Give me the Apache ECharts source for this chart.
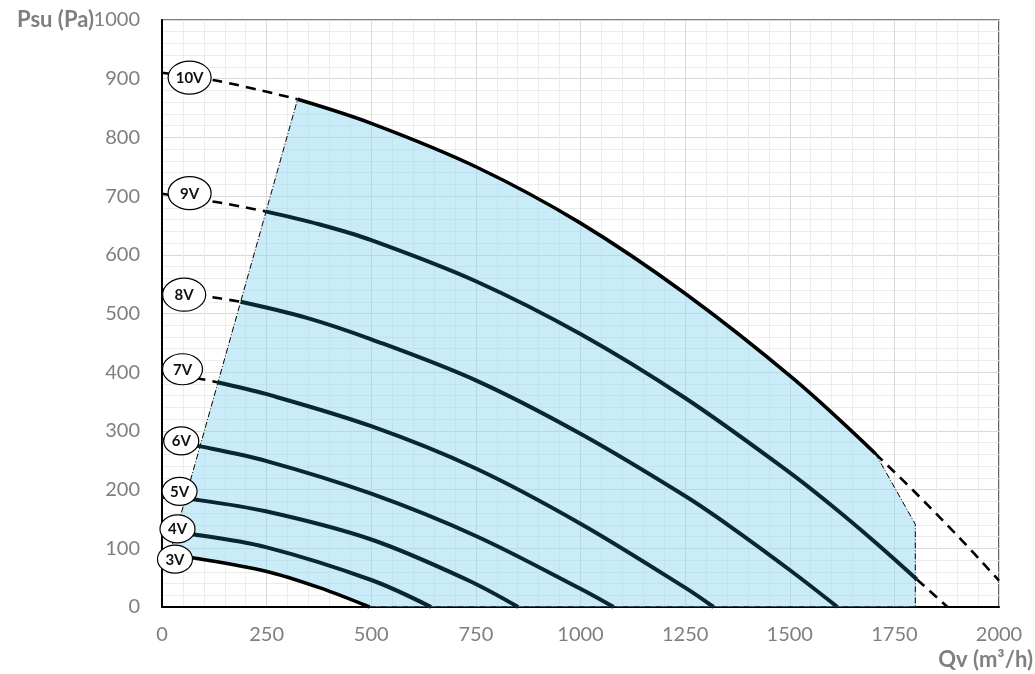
<!DOCTYPE html>
<html>
<head>
<meta charset="utf-8">
<script src="https://cdn.jsdelivr.net/npm/echarts@6/dist/echarts.min.js"></script>
<style>
html,body{margin:0;padding:0;background:#fff;}
#chart{width:1035px;height:674px;}
</style>
</head>
<body>
<div id="chart"></div>
<script>
// ---- Data (Qv in m3/h, Psu in Pa) ----
const voltages = ['10V', '9V', '8V', '7V', '6V', '5V', '4V', '3V'];

const curve10V = [[0,910],[135,896],[324,865],[500,824],[750,750],[1000,654],[1250,534],[1510,388],[1705,261],[1800,195],[1900,122],[2000,45]];
const curve9V  = [[0,704],[137,689],[247,674],[375,652],[500,625],[750,555],[1000,465],[1250,356],[1500,229],[1600,173],[1700,113],[1804,47],[1877,0]];
const curve8V  = [[0,541],[137,526],[188,520],[344,493],[500,456],[750,386],[1000,295],[1250,189],[1358,137],[1500,63],[1614,0]];
const curve7V  = [[0,400],[89,389],[132,383],[248,363],[500,308],[750,236],[1000,142],[1250,33],[1318,0]];
const curve6V  = [[0,285],[89,274],[248,249],[500,193],[750,121],[1000,31],[1079,0]];
const curve5V  = [[0,188],[69,184],[248,163],[500,115],[730,46],[851,0]];
const curve4V  = [[0,128],[73,124],[248,102],[500,46],[643,0]];
const curve3V  = [[0,91],[73,84],[248,61],[376,33],[496,0]];

// Q range over which each curve is drawn solid (dashed outside it)
const solidFrom = [324, 247, 188, 132, 0, 0, 0, 0];
const solidTo   = [1705, 1804, 9999, 9999, 9999, 9999, 9999, 9999];

// Operating envelope boundary (dash-dot lines)
const envelopeLeft   = [[18,89],[324,865]];
const envelopeRight  = [[1705,261],[1800,141],[1800,0]];
const envelopeBottom = [[496,0],[1800,0]];

// Voltage tag anchors (data coordinates)
const tagAnchors = [[66,902],[66,705],[53,532],[49,405],[46,283],[42,197],[37,133],[31,81.5]];

// Axis ticks
const xTicks = [0, 250, 500, 750, 1000, 1250, 1500, 1750, 2000];
const yTicks = [0, 100, 200, 300, 400, 500, 600, 700, 800, 900, 1000];

// ---- Build chart ----
const curves = [curve10V, curve9V, curve8V, curve7V, curve6V, curve5V, curve4V, curve3V];
const FONT = 'Lato, "Open Sans", sans-serif';
const SMOOTH = 0.34;
const series = [];

// shaded envelope polygon: left edge, 10V top, right edge, bottom, 3V reversed
const topEdge = curve10V.filter(p => p[0] >= envelopeLeft[1][0] && p[0] <= envelopeRight[0][0]);
const bottomCurve = curve3V.filter(p => p[0] > envelopeLeft[0][0]).slice().reverse();
const polygonPts = [envelopeLeft[0]].concat(topEdge, envelopeRight.slice(1), [envelopeBottom[0]], bottomCurve.slice(1));

series.push({
  type: 'custom', coordinateSystem: 'cartesian2d', silent: true, z: 1, clip: true,
  data: [[0, 0]],
  renderItem: function (params, api) {
    return {
      type: 'polygon',
      shape: { points: polygonPts.map(p => api.coord(p)) },
      style: { fill: 'rgba(150,218,244,0.5)' }
    };
  }
});

// envelope dash-dot lines
[envelopeLeft, envelopeRight, envelopeBottom].forEach(seg => {
  series.push({
    type: 'line', data: seg, symbol: 'none', silent: true, z: 2,
    lineStyle: { color: '#000', width: 1, type: [6, 2, 1, 2] }
  });
});

// curves: dashed heads/tails, solid core
curves.forEach((pts, i) => {
  const s0 = solidFrom[i], s1 = solidTo[i];
  const head = pts.filter(p => p[0] <= s0);
  const core = pts.filter(p => p[0] >= s0 && p[0] <= s1);
  const tail = pts.filter(p => p[0] >= s1);
  const edge = (i === 0 || i === curves.length - 1);
  const col = edge ? '#000000' : '#0a2630';
  if (head.length > 1) series.push({
    type: 'line', data: head, symbol: 'none', smooth: SMOOTH, silent: true, z: 3,
    lineStyle: { color: '#000', width: 2.6, type: [10, 7] }
  });
  if (tail.length > 1) series.push({
    type: 'line', data: tail, symbol: 'none', smooth: SMOOTH, silent: true, z: 3,
    lineStyle: { color: '#000', width: 2.6, type: [10, 7] }
  });
  series.push({
    type: 'line', data: core, symbol: 'none', smooth: SMOOTH, silent: true, z: 4,
    lineStyle: { color: col, width: edge ? 3.6 : 4 }
  });
});

// voltage tags (ellipses)
series.push({
  type: 'custom', coordinateSystem: 'cartesian2d', silent: true, z: 10, clip: false,
  data: tagAnchors,
  renderItem: function (params, api) {
    const c = api.coord([api.value(0), api.value(1)]);
    const v = api.value(1);
    const rx = v > 450 ? 21.5 : (v > 350 ? 20 : 17.5);
    const ry = v > 450 ? 16.5 : (v > 350 ? 15.5 : 14);
    return {
      type: 'group',
      children: [
        { type: 'ellipse', shape: { cx: c[0], cy: c[1], rx: rx, ry: ry },
          style: { fill: '#fff', stroke: '#000', lineWidth: 1.2 } },
        { type: 'text', style: { text: voltages[params.dataIndex], x: c[0], y: c[1] + 0.5,
          align: 'center', verticalAlign: 'middle', fill: '#111',
          fontSize: 15, fontWeight: 'bold', fontFamily: FONT } }
      ]
    };
  }
});

const chart = echarts.init(document.getElementById('chart'), null, { renderer: 'canvas' });
chart.setOption({
  animation: false,
  backgroundColor: '#fff',
  grid: { left: 162, right: 36, top: 20, bottom: 67, containLabel: false, outerBoundsMode: 'none',
          show: true, borderColor: '#000', borderWidth: 1.2, backgroundColor: '#fff' },
  graphic: [{
    type: 'text', x: 94, y: 20, silent: true,
    style: { text: 'Psu (Pa)', align: 'right', verticalAlign: 'middle', fill: '#7f7f7f',
             fontSize: 22, fontWeight: 'bold', fontFamily: FONT }
  }],
  xAxis: {
    type: 'value', min: xTicks[0], max: xTicks[xTicks.length - 1], interval: xTicks[1] - xTicks[0],
    name: 'Qv (m³/h)', nameLocation: 'end', nameGap: 34,
    nameTextStyle: { color: '#7f7f7f', fontWeight: 'bold', fontSize: 22, fontFamily: FONT, align: 'right', verticalAlign: 'top', padding: [42, 0, 0, 0] },
    axisLine: { show: true, lineStyle: { color: '#000', width: 2 } },
    axisTick: { show: false },
    axisLabel: { color: '#7f7f7f', fontSize: 20, fontFamily: FONT, margin: 18, formatter: v => String(v) },
    splitLine: { show: true, lineStyle: { color: '#d9d9d9', width: 1 } },
    minorTick: { show: false, splitNumber: 5 },
    minorSplitLine: { show: true, lineStyle: { color: '#ececec', width: 1 } }
  },
  yAxis: {
    type: 'value', min: yTicks[0], max: yTicks[yTicks.length - 1], interval: yTicks[1] - yTicks[0],
    axisLine: { show: true, lineStyle: { color: '#000', width: 2 } },
    axisTick: { show: false },
    axisLabel: { color: '#7f7f7f', fontSize: 20, fontFamily: FONT, margin: 22, formatter: v => String(v) },
    splitLine: { show: true, lineStyle: { color: '#d9d9d9', width: 1 } },
    minorTick: { show: false, splitNumber: 5 },
    minorSplitLine: { show: true, lineStyle: { color: '#ececec', width: 1 } }
  },
  series: series
});
</script>
</body>
</html>
